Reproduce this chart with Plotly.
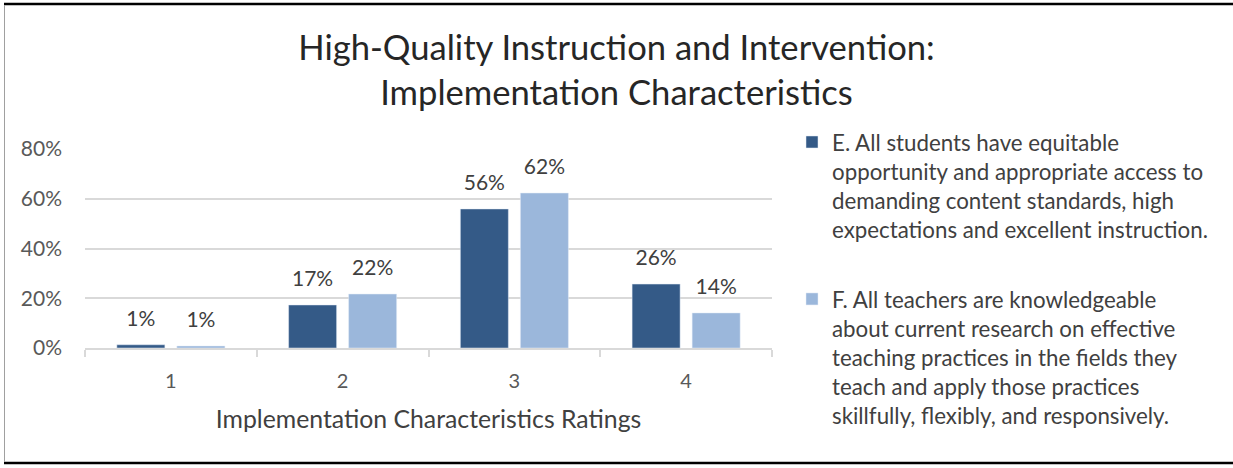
import plotly.graph_objects as go

categories = ["1", "2", "3", "4"]
series_e = [0.013, 0.173, 0.559, 0.257]
series_f = [0.008, 0.217, 0.623, 0.141]
name_e = ("E. All students have equitable<br>opportunity and appropriate access to<br>"
          "demanding content standards, high<br>expectations and excellent instruction.")
name_f = ("F. All teachers are knowledgeable<br>about current research on effective<br>"
          "teaching practices in the fields they<br>teach and apply those practices<br>"
          "skillfully, flexibly, and responsively.")
y_ticks = [0, 0.2, 0.4, 0.6, 0.8]

FONT = "Lato"
DARK = "#345A87"
LIGHT = "#9BB7DB"

W, H = 1233, 468
L, R, T, B = 85, 772, 149, 348


def px(x):
    return (x - L) / (R - L)


def py(y):
    return (B - y) / (B - T)


def span(text, size):
    return "<br>".join(f'<span style="font-size:{size}px">{t}</span>' for t in text.split("<br>"))


fig = go.Figure()
for vals, name, color, grp in [(series_e, name_e, DARK, "E"), (series_f, name_f, LIGHT, "F")]:
    fig.add_trace(go.Bar(
        x=categories, y=vals, name=name, marker_color=color,
        legendgroup=grp, hoverinfo="x+y",
    ))
for vals, grp in [(series_e, "E"), (series_f, "F")]:
    fig.add_trace(go.Scatter(
        x=categories, y=vals, mode="markers+text", legendgroup=grp, showlegend=False,
        text=[f"{v:.0%}" for v in vals], textposition="top center",
        textfont=dict(size=21, color="#404040", family=FONT),
        marker=dict(size=20, color="rgba(0,0,0,0)"), hoverinfo="skip", cliponaxis=False,
    ))

shapes = [
    dict(type="line", xref="paper", yref="paper", x0=px(4), x1=px(1240), y0=py(4), y1=py(4),
         line=dict(color="black", width=2.5)),
    dict(type="line", xref="paper", yref="paper", x0=px(4), x1=px(1240), y0=py(463), y1=py(463),
         line=dict(color="black", width=2.5)),
    dict(type="line", xref="paper", yref="paper", x0=px(4.5), x1=px(4.5), y0=py(5), y1=py(462),
         line=dict(color="#a0a0a0", width=1)),
]

fig.update_layout(
    width=W, height=H,
    margin=dict(l=L, r=W - R, t=T, b=H - B, pad=0, autoexpand=False),
    paper_bgcolor="white", plot_bgcolor="white",
    font=dict(family=FONT, color="#404040"),
    title=dict(
        text=span("High-Quality Instruction and Intervention:<br>Implementation Characteristics", 34.6),
        font=dict(size=34.5, color="#262626", family=FONT),
        x=0.5, xanchor="center", xref="container",
        y=1 - 60 / H, yanchor="top", yref="container",
    ),
    barmode="group", bargap=0.301, bargroupgap=0.2,
    scattermode="group", scattergap=0.301,
    xaxis=dict(
        type="category", showgrid=False, showline=True, linecolor="#d9d9d9", linewidth=1.5,
        ticks="outside", tickson="boundaries", ticklen=7, tickcolor="#d9d9d9", tickwidth=1.5,
        tickfont=dict(size=20, color="#595959", family=FONT), ticklabelstandoff=14,
        title=dict(text="Implementation Characteristics Ratings",
                   font=dict(size=24.8, color="#404040", family=FONT), standoff=20),
        fixedrange=True,
    ),
    yaxis=dict(
        range=[0, 0.8], tickvals=y_ticks, tickformat=".0%", showgrid=True,
        gridcolor="#d9d9d9", gridwidth=1.5, zeroline=False, showline=False,
        tickfont=dict(size=21, color="#595959", family=FONT), ticklabelstandoff=22,
        fixedrange=True,
    ),
    legend=dict(
        x=px(792), xanchor="left", y=py(121), yanchor="top",
        font=dict(size=22.3, color="#404040", family=FONT),
        traceorder="grouped", tracegroupgap=38, bgcolor="rgba(0,0,0,0)",
        valign="top", maxheight=420,
        itemclick=False, itemdoubleclick=False,
    ),
    shapes=shapes,
    showlegend=True,
)

fig.write_html("out.html", config={"displayModeBar": False},
               post_script="document.body.style.margin='0px';")
